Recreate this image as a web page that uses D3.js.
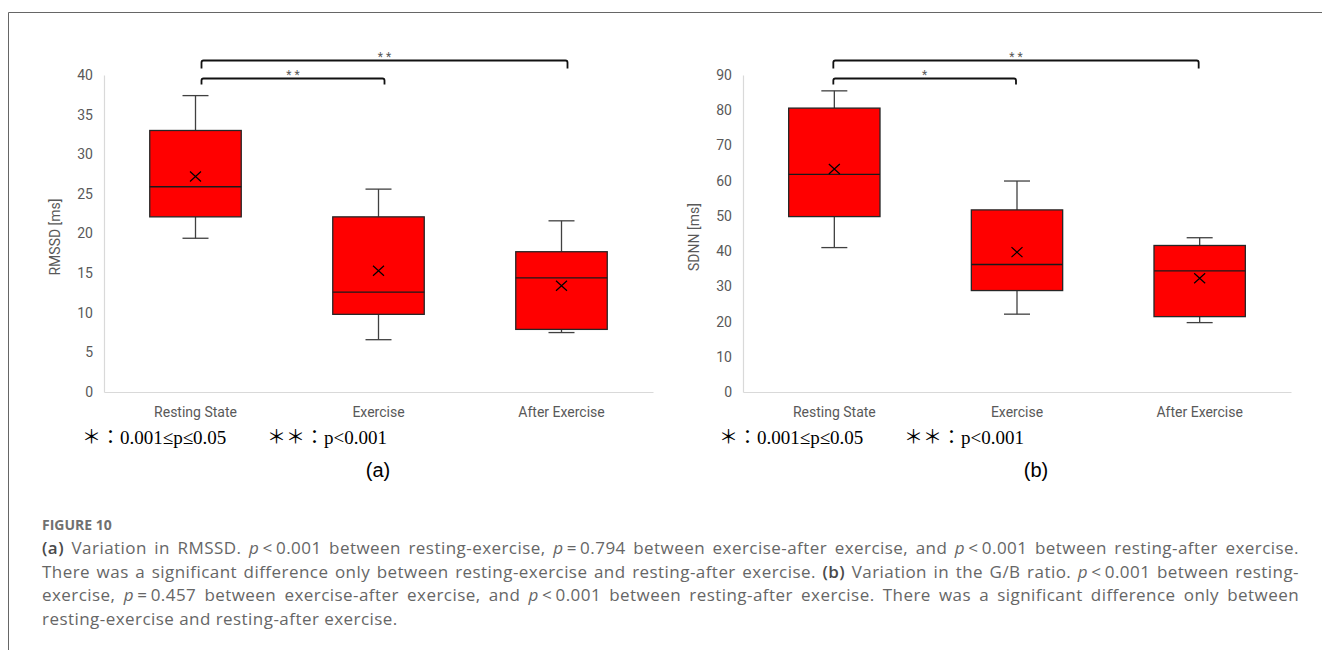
<!DOCTYPE html>
<html>
<head>
<meta charset="utf-8">
<script src="https://cdn.jsdelivr.net/npm/d3@7"></script>
<style>
  body { margin: 0; background: #fff; }
  #wrap { position: relative; width: 1322px; height: 650px; overflow: hidden; }
  svg { position: absolute; left: 0; top: 0; }
  #caption { position: absolute; left: 42px; top: 515px; width: 1257px;
    font-family: "Open Sans", "Noto Sans", sans-serif; color: #666; }
  #caption .fig { font-size: 14px; line-height: 20px; font-weight: 700; margin-bottom: 1px; color: #707070; }
  #caption .ln { font-size: 17px; line-height: 23.7px; letter-spacing: 0.45px; white-space: nowrap; text-align: justify; text-align-last: justify; }
  #caption .ln.last { text-align-last: left; }
  #caption b { font-weight: 600; color: #4a4a4a; }
</style>
</head>
<body>
<div id="wrap">
  <svg id="chart" width="1322" height="650"></svg>
  <div id="caption"></div>
</div>
<script>
// categories and box statistics
const categories = ["Resting State", "Exercise", "After Exercise"];

const rmssdMin    = [19.4, 6.6, 7.5];
const rmssdQ1     = [22.1, 9.8, 7.9];
const rmssdMedian = [25.9, 12.6, 14.4];
const rmssdQ3     = [33.0, 22.1, 17.7];
const rmssdMax    = [37.4, 25.6, 21.6];
const rmssdMean   = [27.2, 15.3, 13.4];
const rmssdTicks  = [0, 5, 10, 15, 20, 25, 30, 35, 40];

const sdnnMin    = [41.0, 22.1, 19.7];
const sdnnQ1     = [49.8, 28.8, 21.4];
const sdnnMedian = [61.8, 36.2, 34.4];
const sdnnQ3     = [80.6, 51.7, 41.6];
const sdnnMax    = [85.5, 59.9, 43.8];
const sdnnMean   = [63.3, 39.7, 32.3];
const sdnnTicks  = [0, 10, 20, 30, 40, 50, 60, 70, 80, 90];

// significance brackets: [from, to, label]
const rmssdPairs = [[0, 2, "* *"], [0, 1, "* *"]];
const sdnnPairs  = [[0, 2, "* *"], [0, 1, "*"]];

const legendLabels = ["＊：0.001≤p≤0.05", "＊＊：p<0.001"];

const svg = d3.select("#chart");

// figure frame
svg.append("path")
    .attr("d", "M8.5,650V12.5H1322")
    .attr("fill", "none")
    .attr("stroke", "#666")
    .attr("stroke-width", 1);

function drawPanel(p) {
    const g = svg.append("g");

    const x = d3.scaleBand().domain(categories).range([p.x0, p.x1]);
    const y = d3.scaleLinear().domain([0, d3.max(p.ticks)]).range([392, 75]);
    const bw = x.bandwidth() * 0.5;

    // axes
    const ya = g.append("g")
        .attr("transform", `translate(${p.x0},0)`)
        .call(d3.axisLeft(y).tickValues(p.ticks).tickSize(0).tickSizeOuter(0).tickPadding(11));
    ya.select(".domain").attr("stroke", "#d9d9d9").attr("stroke-width", 1.2);
    ya.selectAll("text")
        .attr("font-family", "Roboto, 'Liberation Sans', sans-serif")
        .attr("font-size", 14).attr("fill", "#595959");

    const xa = g.append("g")
        .attr("transform", "translate(0,392)")
        .call(d3.axisBottom(x).tickSize(0).tickSizeOuter(0).tickPadding(15));
    xa.select(".domain").attr("stroke", "#d9d9d9").attr("stroke-width", 1.2);
    xa.selectAll("text")
        .attr("font-family", "Roboto, 'Liberation Sans', sans-serif")
        .attr("font-size", 14).attr("fill", "#595959");

    g.append("text")
        .attr("transform", `translate(${p.titleX},237) rotate(-90)`)
        .attr("text-anchor", "middle")
        .attr("font-family", "Roboto, 'Liberation Sans', sans-serif")
        .attr("font-size", 14).attr("fill", "#595959")
        .text(p.title);

    // boxes
    const idx = d3.range(categories.length);
    const cx = i => x(categories[i]) + x.bandwidth() / 2;

    const box = g.selectAll("g.box").data(idx).join("g").attr("class", "box");

    box.append("line")
        .attr("x1", cx).attr("x2", cx)
        .attr("y1", i => y(p.max[i])).attr("y2", i => y(p.q3[i]))
        .attr("stroke", "#404040").attr("stroke-width", 1.3);
    box.append("line")
        .attr("x1", cx).attr("x2", cx)
        .attr("y1", i => y(p.q1[i])).attr("y2", i => y(p.min[i]))
        .attr("stroke", "#404040").attr("stroke-width", 1.3);
    box.append("line")
        .attr("x1", i => cx(i) - 13).attr("x2", i => cx(i) + 13)
        .attr("y1", i => y(p.max[i])).attr("y2", i => y(p.max[i]))
        .attr("stroke", "#404040").attr("stroke-width", 1.3);
    box.append("line")
        .attr("x1", i => cx(i) - 13).attr("x2", i => cx(i) + 13)
        .attr("y1", i => y(p.min[i])).attr("y2", i => y(p.min[i]))
        .attr("stroke", "#404040").attr("stroke-width", 1.3);

    box.append("rect")
        .attr("x", i => cx(i) - bw / 2)
        .attr("width", bw)
        .attr("y", i => y(p.q3[i]))
        .attr("height", i => y(p.q1[i]) - y(p.q3[i]))
        .attr("fill", "#ff0000")
        .attr("stroke", "#262626").attr("stroke-width", 1.3);

    box.append("line")
        .attr("x1", i => cx(i) - bw / 2).attr("x2", i => cx(i) + bw / 2)
        .attr("y1", i => y(p.median[i])).attr("y2", i => y(p.median[i]))
        .attr("stroke", "#1a1a1a").attr("stroke-width", 1.3);

    // mean marker
    box.append("path")
        .attr("d", i => {
            const mx = cx(i), my = y(p.mean[i]);
            return `M${mx - 5.5},${my - 5}L${mx + 5.5},${my + 5}M${mx - 5.5},${my + 5}L${mx + 5.5},${my - 5}`;
        })
        .attr("stroke", "#000").attr("stroke-width", 1.2).attr("fill", "none");

    // significance brackets
    p.pairs.forEach((d, k) => {
        const by = k === 0 ? 60.5 : 78.5;
        const drop = k === 0 ? 8 : 6;
        const xa1 = cx(d[0]) + p.shift, xa2 = cx(d[1]) + p.shift;
        g.append("path")
            .attr("d", `M${xa1},${by + drop}V${by + 2}Q${xa1},${by} ${xa1 + 2},${by}H${xa2 - 2}Q${xa2},${by} ${xa2},${by + 2}V${by + drop}`)
            .attr("fill", "none").attr("stroke", "#111").attr("stroke-width", 1.8);
        g.append("text")
            .attr("x", (xa1 + xa2) / 2).attr("y", by + 0.5)
            .attr("text-anchor", "middle")
            .attr("font-family", "Roboto, sans-serif")
            .attr("font-size", 12).attr("fill", "#595959")
            .text(d[2]);
    });

    // legend note and panel tag
    g.selectAll("text.note").data(legendLabels).join("text")
        .attr("class", "note")
        .attr("x", (d, i) => i === 0 ? p.noteX : p.noteX + 185)
        .attr("y", 444)
        .attr("font-family", "'Liberation Serif', 'Times New Roman', 'Noto Sans CJK JP', serif")
        .attr("font-size", 19).attr("fill", "#000")
        .text(d => d);

    g.append("text")
        .attr("x", p.tagX).attr("y", 477)
        .attr("text-anchor", "middle")
        .attr("font-family", "'Liberation Sans', Arial, sans-serif")
        .attr("font-size", 20).attr("fill", "#000")
        .text(p.tag);
}

drawPanel({
    x0: 104, x1: 653, ticks: rmssdTicks, title: "RMSSD [ms]", titleX: 60,
    min: rmssdMin, q1: rmssdQ1, median: rmssdMedian, q3: rmssdQ3, max: rmssdMax, mean: rmssdMean,
    pairs: rmssdPairs, shift: 6, noteX: 82, tagX: 378, tag: "(a)"
});

drawPanel({
    x0: 743, x1: 1291, ticks: sdnnTicks, title: "SDNN [ms]", titleX: 699,
    min: sdnnMin, q1: sdnnQ1, median: sdnnMedian, q3: sdnnQ3, max: sdnnMax, mean: sdnnMean,
    pairs: sdnnPairs, shift: -1, noteX: 719, tagX: 1036, tag: "(b)"
});

// caption
const captionLines = [
    "<b>(a)</b> Variation in RMSSD. <i>p</i>&thinsp;&lt;&thinsp;0.001 between resting-exercise, <i>p</i>&thinsp;=&thinsp;0.794 between exercise-after exercise, and <i>p</i>&thinsp;&lt;&thinsp;0.001 between resting-after exercise.",
    "There was a significant difference only between resting-exercise and resting-after exercise. <b>(b)</b> Variation in the G/B ratio. <i>p</i>&thinsp;&lt;&thinsp;0.001 between resting-",
    "exercise, <i>p</i>&thinsp;=&thinsp;0.457 between exercise-after exercise, and <i>p</i>&thinsp;&lt;&thinsp;0.001 between resting-after exercise. There was a significant difference only between",
    "resting-exercise and resting-after exercise."
];
const cap = d3.select("#caption");
cap.append("div").attr("class", "fig").text("FIGURE 10");
cap.selectAll("div.ln").data(captionLines).join("div")
    .attr("class", (d, i) => i === captionLines.length - 1 ? "ln last" : "ln")
    .html(d => d);
</script>
</body>
</html>
